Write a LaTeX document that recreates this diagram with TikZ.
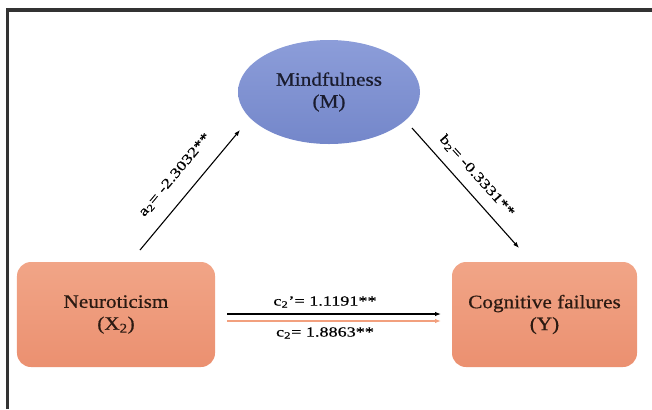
\documentclass[tikz,border=0pt]{standalone}
\usepackage{graphicx}
\usepackage{fontspec}
\setmainfont{Liberation Serif}
\usetikzlibrary{arrows.meta,shapes.geometric}
\definecolor{boxtop}{HTML}{F1A587}
\definecolor{boxbot}{HTML}{EB9070}
\definecolor{elltop}{HTML}{8C9DD9}
\definecolor{ellbot}{HTML}{7487CA}
\definecolor{boxtext}{HTML}{2B1A12}
\definecolor{elltext}{HTML}{1A1C2E}
\definecolor{framecol}{HTML}{333333}
\definecolor{orangearrow}{HTML}{F2A07E}
\newcommand{\widetext}[1]{\scalebox{1.12}[1]{#1}}
\newcommand{\widecoef}[1]{\scalebox{1.3}[1]{#1}}
\begin{document}
\begin{tikzpicture}[x=1bp,y=-1bp,
  framel/.style={draw=framecol,line width=3.2bp},
  varbox/.style={rectangle,rounded corners=14bp,top color=boxtop,bottom color=boxbot,
    minimum height=105bp,inner sep=0pt,align=center,text=boxtext,
    font=\fontsize{19}{22}\selectfont\addfontfeatures{FakeBold=0.6}},
  medell/.style={ellipse,top color=elltop,bottom color=ellbot,minimum width=182bp,
    minimum height=104bp,inner sep=0pt,align=center,text=elltext,
    font=\fontsize{19}{22}\selectfont\addfontfeatures{FakeBold=0.6}},
  patharrow/.style={line width=1.1bp,-{Latex[length=6bp,width=4.5bp]}},
  coef/.style={font=\fontsize{14}{15}\selectfont\addfontfeatures{FakeBold=0.4},text=black,inner sep=0pt}
]
\useasboundingbox (0,0) rectangle (652,409);
\draw[framel] (7.7,409) -- (7.7,10) -- (652,10);

\node[medell] (M) at (329,92) {\widetext{Mindfulness}\\\widetext{(M)}};
\node[varbox,minimum width=198bp] (X) at (116,314.5) {\widetext{Neuroticism}\\\widetext{(X\textsubscript{2})}};
\node[varbox,minimum width=185bp] (Y) at (544.5,314.5) {\widetext{Cognitive failures}\\\widetext{(Y)}};

\coordinate (a1) at (140,250);
\coordinate (a2) at (240,130);
\coordinate (b1) at (412,128);
\coordinate (b2) at (519,248);
\coordinate (c1) at (227,314);
\coordinate (c2) at (441,314);
\coordinate (d1) at (227,321);
\coordinate (d2) at (441,321);

\draw[patharrow] (a1) -- (a2);
\draw[patharrow] (b1) -- (b2);
\draw[patharrow] (c1) -- (c2);
\draw[patharrow,draw=orangearrow,line width=1.5bp] (d1) -- (d2);

\node[coef,rotate=50] (la) at (175,175) {\widecoef{a\textsubscript{2}= -2.3032**}};
\node[coef,rotate=-48] (lb) at (477,176) {\widecoef{b\textsubscript{2}= -0.3331**}};
\node[coef] (lc1) at (325,302) {\widecoef{c\textsubscript{2}'= 1.1191**}};
\node[coef] (lc2) at (325,333) {\widecoef{c\textsubscript{2}= 1.8863**}};
\end{tikzpicture}
\end{document}
